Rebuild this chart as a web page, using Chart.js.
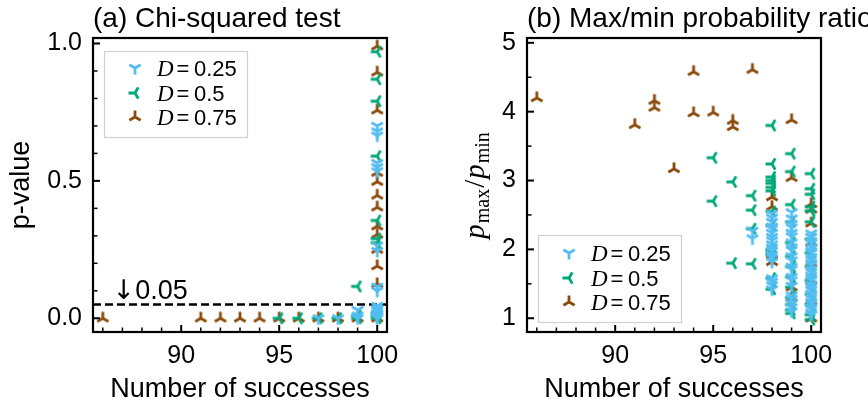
<!DOCTYPE html>
<html><head><meta charset="utf-8">
<script src="https://cdn.jsdelivr.net/npm/chart.js@4.4.1/dist/chart.umd.min.js"></script>
<style>
html,body{margin:0;padding:0;background:#fff;}
#wrap{position:relative;width:868px;height:407px;overflow:hidden;background:#fff;}
.c{position:absolute;top:0;width:434px;height:407px;}
</style></head><body>
<div id="wrap">
<div class="c" style="left:0"><canvas id="ca"></canvas></div>
<div class="c" style="left:434px"><canvas id="cb"></canvas></div>
</div>
<script>
// ---------- tick labels ----------
const xTicks = [90, 95, 100];
const pTicks = [0, 0.5, 1.0];
const ratioTicks = [1, 2, 3, 4, 5];

// ---------- series ----------
const seriesLabels = ['D = 0.25', 'D = 0.5', 'D = 0.75'];
const dValues = ['0.25', '0.5', '0.75'];

// (a) chi-squared p-values
const chiSucc25 = [97, 98, 99, 99, 99, 100, 100, 100, 100, 100, 100, 100, 100, 100, 100, 100, 100, 100, 100, 100, 100, 100, 100];
const chiP25    = [0.0, 0.0, 0.03, 0.01, 0.0, 0.70, 0.68, 0.665, 0.565, 0.55, 0.535, 0.265, 0.245, 0.115, 0.10, 0.045, 0.035, 0.03, 0.02, 0.015, 0.01, 0.005, 0.0];

const chiSucc50 = [95, 96, 97, 98, 99, 99, 99, 100, 100, 100, 100, 100, 100, 100, 100, 100, 100];
const chiP50    = [0.0, 0.0, 0.0, 0.0, 0.116, 0.01, 0.0, 0.97, 0.87, 0.79, 0.59, 0.356, 0.29, 0.275, 0.02, 0.01, 0.0];

const chiSucc75 = [86, 91, 92, 93, 94, 95, 96, 97, 98, 99, 100, 100, 100, 100, 100, 100, 100, 100, 100, 100, 100, 100, 100];
const chiP75    = [0.0, 0.0, 0.0, 0.0, 0.0, 0.0, 0.0, 0.0, 0.0, 0.0, 0.99, 0.895, 0.757, 0.53, 0.497, 0.447, 0.404, 0.335, 0.305, 0.25, 0.19, 0.125, 0.0];

// (b) max/min probability ratio
const ratioSucc25 = [97, 97,
  98, 98, 98, 98, 98, 98, 98, 98, 98, 98, 98, 98, 98, 98, 98, 98, 98, 98,
  99, 99, 99, 99, 99, 99, 99, 99, 99, 99, 99, 99, 99, 99, 99, 99, 99, 99, 99, 99, 99,
  100, 100, 100, 100, 100, 100, 100, 100, 100, 100, 100, 100, 100, 100, 100, 100, 100, 100, 100, 100, 100, 100, 100, 100, 100, 100, 100, 100];
const ratio25 = [2.27, 2.16,
  2.52, 2.46, 2.40, 2.33, 2.30, 2.24, 2.18, 2.13, 2.07, 2.02, 1.98, 1.92, 1.88, 1.82, 1.58, 1.53, 1.48, 1.42,
  2.54, 2.45, 2.37, 2.32, 2.24, 2.19, 2.10, 2.03, 1.99, 1.90, 1.84, 1.75, 1.71, 1.60, 1.55, 1.47, 1.33, 1.28, 1.22, 1.16, 1.10,
  2.23, 2.18, 2.12, 2.09, 2.03, 1.98, 1.95, 1.89, 1.85, 1.80, 1.77, 1.71, 1.67, 1.62, 1.58, 1.55, 1.49, 1.45, 1.41, 1.36, 1.33, 1.29, 1.24, 1.21, 1.16, 1.13, 1.08, 1.05, 1.01, 0.98, 0.95];

const ratioSucc50 = [95, 95, 96, 96, 97, 97, 97, 97,
  98, 98, 98, 98, 98, 98, 98, 98, 98, 98, 98, 98, 98, 98,
  99, 99, 99, 99, 99, 99, 99, 99, 99, 99, 99, 99, 99,
  100, 100, 100, 100, 100, 100, 100, 100, 100, 100, 100, 100, 100, 100];
const ratio50 = [3.33, 2.70, 2.98, 1.80, 2.78, 2.57, 2.30, 1.79,
  3.80, 3.24, 3.05, 3.00, 2.96, 2.90, 2.85, 2.55, 2.35, 2.00, 1.96, 1.92, 1.58, 1.42,
  3.39, 3.13, 2.65, 2.40, 2.10, 1.90, 1.75, 1.60, 1.45, 1.30, 1.20, 1.12, 1.07,
  3.10, 2.88, 2.80, 2.62, 2.56, 2.40, 2.15, 1.95, 1.75, 1.55, 1.35, 1.20, 1.05, 0.98];

const ratioSucc75 = [86, 91, 92, 92, 93, 94, 94, 95, 96, 96, 97,
  98, 98, 98, 98, 99, 99, 99, 99,
  100, 100, 100, 100, 100, 100, 100, 100];
const ratio75 = [4.20, 3.81, 4.16, 4.06, 3.17, 4.58, 3.98, 3.99, 3.87, 3.78, 4.61,
  2.76, 2.62, 1.92, 1.82, 3.88, 3.04, 1.45, 1.30,
  2.66, 2.58, 2.38, 2.10, 1.80, 1.55, 1.25, 1.00];

// ---------- styling ----------
const colors = ['#52BDF2', '#00A878', '#8B4A0C'];
const kinds = ['down', 'left', 'up'];

function tri(kind, color) {
  const s = 18, c = document.createElement('canvas');
  c.width = s; c.height = s;
  const g = c.getContext('2d');
  g.strokeStyle = color; g.lineWidth = 2.8;
  const r = 6.5, h = s / 2;
  const dirs = {
    down: [[0, 1], [-0.866, -0.5], [0.866, -0.5]],
    left: [[-1, 0], [0.5, -0.866], [0.5, 0.866]],
    up: [[0, -1], [-0.866, 0.5], [0.866, 0.5]]
  }[kind];
  g.beginPath();
  dirs.forEach(([dx, dy]) => { g.moveTo(h, h); g.lineTo(h + dx * r, h + dy * r); });
  g.stroke();
  return c;
}
const markers = kinds.map((k, i) => tri(k, colors[i]));

function pts(xs, ys) { return xs.map((x, i) => ({ x: x, y: ys[i] })); }

Chart.defaults.font.family = "'Liberation Sans', Arial, sans-serif";
Chart.defaults.color = '#000';

const panelInfo = {
  ca: { title: '(a) Chi-squared test', ylabel: 'p-value', yMinorStep: 0.1, yMajor: pTicks,
        boxTop: 51, boxBottom: 137, rows: [68, 93, 117], hline: 0.05, noteX: 86.5, noteText: '0.05' },
  cb: { title: '(b) Max/min probability ratio', ylabel: null, yMinorStep: 0.5, yMajor: ratioTicks,
        boxTop: 235, boxBottom: 322, rows: [253, 278, 302] }
};

const decor = {
  id: 'decor',
  beforeDatasetsDraw(chart) {
    const info = panelInfo[chart.canvas.id];
    const ctx = chart.ctx, a = chart.chartArea;
    if (info.hline != null) {
      const y = chart.scales.y.getPixelForValue(info.hline);
      ctx.save();
      ctx.strokeStyle = '#000'; ctx.lineWidth = 2.4; ctx.setLineDash([8, 4]);
      ctx.beginPath(); ctx.moveTo(a.left, y); ctx.lineTo(a.right, y); ctx.stroke();
      ctx.restore();
      ctx.save();
      ctx.fillStyle = '#000';
      ctx.textBaseline = 'alphabetic'; ctx.textAlign = 'left';
      let x0 = chart.scales.x.getPixelForValue(info.noteX);
      ctx.font = "27px 'DejaVu Sans', sans-serif";
      ctx.fillText('\u2193', x0, y - 6);
      x0 += ctx.measureText('\u2193').width;
      ctx.font = "27px 'Liberation Sans', Arial, sans-serif";
      ctx.fillText(info.noteText, x0, y - 6);
      ctx.restore();
    }
  },
  afterDraw(chart) {
    const info = panelInfo[chart.canvas.id];
    const ctx = chart.ctx, a = chart.chartArea;
    const xs = chart.scales.x, ys = chart.scales.y;
    ctx.save();
    ctx.strokeStyle = '#000';
    // x ticks (inward)
    for (let v = Math.ceil(xs.min); v <= xs.max; v++) {
      const major = xTicks.includes(v);
      const px = xs.getPixelForValue(v);
      ctx.lineWidth = major ? 2 : 1.5;
      ctx.beginPath(); ctx.moveTo(px, a.bottom); ctx.lineTo(px, a.bottom - (major ? 7 : 4.5)); ctx.stroke();
    }
    // y ticks (inward)
    const st = info.yMinorStep;
    for (let k = Math.ceil(ys.min / st - 1e-9); k * st <= ys.max + 1e-9; k++) {
      const v = k * st;
      const major = info.yMajor.some(t => Math.abs(t - v) < 1e-9);
      const py = ys.getPixelForValue(v);
      ctx.lineWidth = major ? 2 : 1.5;
      ctx.beginPath(); ctx.moveTo(a.left, py); ctx.lineTo(a.left + (major ? 7 : 4.5), py); ctx.stroke();
    }
    // frame
    ctx.lineWidth = 2.2;
    ctx.strokeRect(a.left, a.top, a.right - a.left, a.bottom - a.top);

    // title
    ctx.fillStyle = '#000';
    ctx.font = "28px 'Liberation Sans', Arial, sans-serif";
    ctx.textAlign = 'left'; ctx.textBaseline = 'alphabetic';
    ctx.fillText(info.title, 93, 26.5);
    // x label
    ctx.font = "27px 'Liberation Sans', Arial, sans-serif";
    ctx.textAlign = 'center';
    ctx.fillText('Number of successes', (a.left + a.right) / 2, 397);
    // y label
    const cy = (a.top + a.bottom) / 2;
    if (info.ylabel) {
      ctx.save();
      ctx.translate(29, cy); ctx.rotate(-Math.PI / 2);
      ctx.textAlign = 'center'; ctx.textBaseline = 'alphabetic';
      ctx.fillText(info.ylabel, 0, 0);
      ctx.restore();
    } else {
      const parts = [
        { t: 'p', f: "italic 29px 'Liberation Serif', serif", dy: 0 },
        { t: 'max', f: "20px 'Liberation Serif', serif", dy: 5 },
        { t: '/', f: "29px 'Liberation Serif', serif", dy: 0 },
        { t: 'p', f: "italic 29px 'Liberation Serif', serif", dy: 0 },
        { t: 'min', f: "20px 'Liberation Serif', serif", dy: 5 }
      ];
      ctx.save();
      ctx.translate(50, cy); ctx.rotate(-Math.PI / 2);
      ctx.textAlign = 'left'; ctx.textBaseline = 'alphabetic';
      let total = 0;
      parts.forEach(p => { ctx.font = p.f; p.w = ctx.measureText(p.t).width + 1; total += p.w; });
      let x = -total / 2;
      parts.forEach(p => { ctx.font = p.f; ctx.fillText(p.t, x, p.dy); x += p.w; });
      ctx.restore();
    }
    // legend
    ctx.fillStyle = 'rgba(255,255,255,0.85)';
    ctx.fillRect(104, info.boxTop, 144, info.boxBottom - info.boxTop);
    ctx.strokeStyle = '#d0d0d0'; ctx.lineWidth = 1.2;
    ctx.strokeRect(104.5, info.boxTop + 0.5, 143, info.boxBottom - info.boxTop);
    chart.data.datasets.forEach((ds, i) => {
      const ry = info.rows[i];
      const m = markers[i];
      ctx.drawImage(m, 135 - m.width / 2, ry - m.height / 2);
      ctx.fillStyle = '#000';
      ctx.textAlign = 'left'; ctx.textBaseline = 'alphabetic';
      ctx.font = "italic 23px 'Liberation Serif', serif";
      ctx.fillText('D', 157, ry + 8);
      ctx.font = "22px 'Liberation Sans', Arial, sans-serif";
      ctx.textAlign = 'center';
      ctx.fillText('=', 183, ry + 8);
      ctx.textAlign = 'left';
      ctx.fillText(dValues[i], 194, ry + 8);
    });
    ctx.restore();
  }
};

function makeChart(id, sets, yMin, yMax, yTickList, yFmt) {
  return new Chart(document.getElementById(id), {
    type: 'scatter',
    data: {
      datasets: sets.map((d, i) => ({
        label: seriesLabels[i],
        data: d,
        pointStyle: markers[i],
        pointRadius: 6,
        pointHoverRadius: 6,
        borderColor: colors[i],
        backgroundColor: colors[i]
      }))
    },
    options: {
      responsive: true,
      maintainAspectRatio: false,
      animation: false,
      events: [],
      layout: { padding: { top: 38, right: 47, bottom: 0, left: 0 } },
      plugins: { legend: { display: false }, tooltip: { enabled: false }, title: { display: false } },
      scales: {
        x: {
          type: 'linear', min: 85.5, max: 100.5,
          afterBuildTicks: s => { s.ticks = xTicks.map(v => ({ value: v })); },
          afterFit: s => { s.height = 75; },
          grid: { display: false, drawTicks: false },
          border: { display: false },
          ticks: { font: { size: 25 }, color: '#000', padding: 9, maxRotation: 0, autoSkip: false,
                   callback: v => String(v) }
        },
        y: {
          type: 'linear', min: yMin, max: yMax,
          afterBuildTicks: s => { s.ticks = yTickList.map(v => ({ value: v })); },
          afterFit: s => { s.width = 93; },
          grid: { display: false, drawTicks: false },
          border: { display: false },
          ticks: { font: { size: 25 }, color: '#000', padding: 11, autoSkip: false, callback: yFmt }
        }
      }
    },
    plugins: [decor]
  });
}

makeChart('ca', [pts(chiSucc25, chiP25), pts(chiSucc50, chiP50), pts(chiSucc75, chiP75)],
  -0.05, 1.02, pTicks, v => Number(v).toFixed(1));
makeChart('cb', [pts(ratioSucc25, ratio25), pts(ratioSucc50, ratio50), pts(ratioSucc75, ratio75)],
  0.8, 5.07, ratioTicks, v => String(v));
</script>
</body></html>
